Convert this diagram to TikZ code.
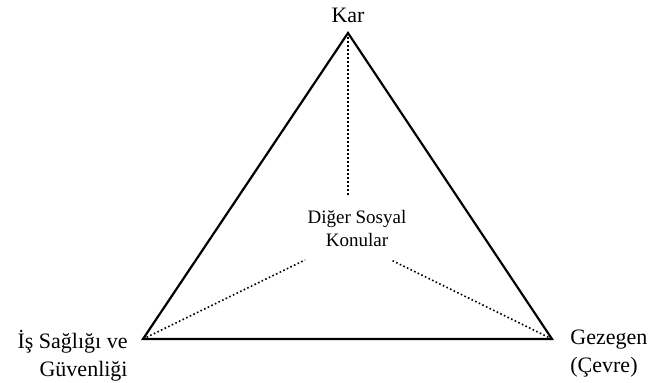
\documentclass[tikz,border=0pt]{standalone}
\usepackage{fontspec}
\setmainfont{Liberation Serif}
\begin{document}
\begin{tikzpicture}[x=0.5pt,y=-0.5pt,
  tri/.style={line width=1.1pt, line join=miter},
  dotline/.style={line width=0.8pt, dash pattern=on 0.8pt off 1.2pt},
  lbl/.style={font=\fontsize{11}{14}\selectfont, inner sep=0pt},
  midlbl/.style={font=\fontsize{9.5}{11.5}\selectfont, inner sep=0pt, align=center}]
\useasboundingbox (0,0) rectangle (649,383);
\coordinate (A) at (348,33);
\coordinate (B) at (143,339);
\coordinate (C) at (552,339);
\coordinate (A1) at (348,195);
\coordinate (B1) at (305,260);
\coordinate (C1) at (391,260);
\draw[tri] (A) -- (B) -- (C) -- cycle;
\draw[dotline] (A) -- (A1);
\draw[dotline] (B) -- (B1);
\draw[dotline] (C) -- (C1);
\node[lbl] (kar) at (348,15) {Kar};
\node[lbl, anchor=east, align=right] (is) at (128,356) {İş Sağlığı ve\\Güvenliği};
\node[lbl, anchor=west, align=left] (gez) at (570,354) {Gezegen\\(Çevre)};
\node[midlbl] (dig) at (357,229) {Diğer Sosyal\\Konular};
\end{tikzpicture}
\end{document}
